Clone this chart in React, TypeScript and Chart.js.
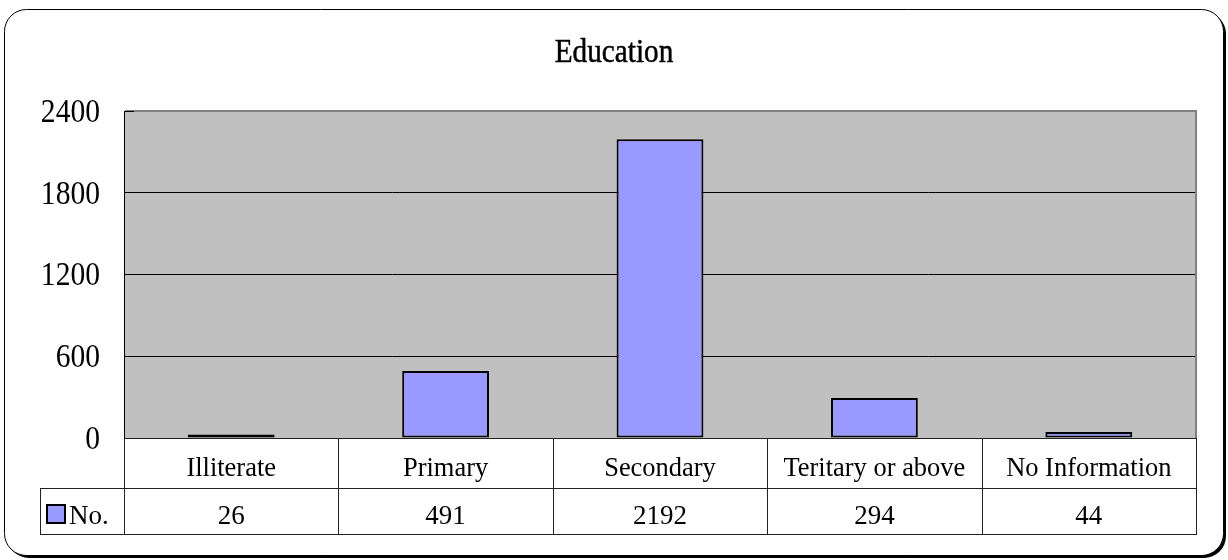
import React, { useEffect, useRef } from "react";
import { Chart, registerables } from "chart.js";

Chart.register(...registerables);

const chartTitle = "Education";
const categories = ["Illiterate", "Primary", "Secondary", "Teritary or above", "No Information"];
const values = [26, 491, 2192, 294, 44];
const seriesName = "No.";
const yTickValues = [0, 600, 1200, 1800, 2400];

const FONT = '"Liberation Serif", "Times New Roman", serif';
const BAR_COLOR = "#9999FF";

function scaledText(ctx: CanvasRenderingContext2D, text: string, x: number, y: number, font: string, sx: number, align: CanvasTextAlign, baseline: CanvasTextBaseline, strokeW = 0) {
  ctx.save();
  ctx.font = font;
  ctx.fillStyle = "#000";
  ctx.textAlign = align;
  ctx.textBaseline = baseline;
  ctx.translate(x, y);
  ctx.scale(sx, 1);
  ctx.fillText(text, 0, 0);
  if (strokeW > 0) {
    ctx.strokeStyle = "#000";
    ctx.lineWidth = strokeW;
    ctx.strokeText(text, 0, 0);
  }
  ctx.restore();
}

function roundRect(ctx: CanvasRenderingContext2D, x: number, y: number, w: number, h: number, r: number) {
  ctx.beginPath();
  ctx.moveTo(x + r, y);
  ctx.lineTo(x + w - r, y);
  ctx.arcTo(x + w, y, x + w, y + r, r);
  ctx.lineTo(x + w, y + h - r);
  ctx.arcTo(x + w, y + h, x + w - r, y + h, r);
  ctx.lineTo(x + r, y + h);
  ctx.arcTo(x, y + h, x, y + h - r, r);
  ctx.lineTo(x, y + r);
  ctx.arcTo(x, y, x + r, y, r);
  ctx.closePath();
}

const excelPlugin = {
  id: "excelLook",
  beforeDraw(chart: any) {
    const ctx: CanvasRenderingContext2D = chart.ctx;
    const { left, right, top, bottom } = chart.chartArea;
    ctx.save();
    ctx.fillStyle = "#fff";
    ctx.fillRect(0, 0, chart.width, chart.height);
    // shadow
    roundRect(ctx, 7, 12, 1219, 546, 22);
    ctx.fillStyle = "#000";
    ctx.fill();
    roundRect(ctx, 4.5, 9.5, 1219, 546, 22);
    ctx.fillStyle = "#fff";
    ctx.fill();
    ctx.strokeStyle = "#000";
    ctx.lineWidth = 1;
    ctx.stroke();
    // plot background
    ctx.fillStyle = "#C0C0C0";
    ctx.fillRect(left, top, right - left, bottom - top);
    ctx.restore();
  },
  afterDatasetsDraw(chart: any) {
    const ctx: CanvasRenderingContext2D = chart.ctx;
    const { left, right, top, bottom } = chart.chartArea;
    const xs = chart.scales.x;
    const ys = chart.scales.y;
    ctx.save();
    // right plot border (gray)
    ctx.strokeStyle = "#808080";
    ctx.lineWidth = 2;
    ctx.beginPath();
    ctx.moveTo(right, top - 1);
    ctx.lineTo(right, bottom);
    ctx.stroke();
    // small tick at top-left
    ctx.strokeStyle = "#000";
    ctx.lineWidth = 1;
    ctx.beginPath();
    ctx.moveTo(left, top + 0.5);
    ctx.lineTo(left + 10, top + 0.5);
    ctx.stroke();

    // data table
    const n = categories.length;
    const bounds: number[] = [left];
    for (let i = 1; i < n; i++) {
      bounds.push((xs.getPixelForValue(i - 1) + xs.getPixelForValue(i)) / 2);
    }
    bounds.push(right);
    const rowTop = bottom;
    const rowMid = bottom + 50;
    const rowBot = bottom + 96;
    const legendLeft = 40;
    ctx.strokeStyle = "#222";
    ctx.lineWidth = 1;
    ctx.beginPath();
    ctx.moveTo(left, rowTop + 0.5);
    ctx.lineTo(right, rowTop + 0.5);
    ctx.moveTo(legendLeft, rowMid + 0.5);
    ctx.lineTo(right, rowMid + 0.5);
    ctx.moveTo(legendLeft, rowBot + 0.5);
    ctx.lineTo(right, rowBot + 0.5);
    ctx.moveTo(legendLeft + 0.5, rowMid);
    ctx.lineTo(legendLeft + 0.5, rowBot);
    for (const b of bounds) {
      const bx = Math.round(b) + 0.5;
      ctx.moveTo(bx, rowTop);
      ctx.lineTo(bx, rowBot + 1);
    }
    ctx.stroke();

    const tableFont = `27px ${FONT}`;
    for (let i = 0; i < n; i++) {
      const cx = (bounds[i] + bounds[i + 1]) / 2;
      scaledText(ctx, categories[i], cx, rowTop + 38, tableFont, 0.98, "center", "alphabetic");
      scaledText(ctx, String(values[i]), cx, rowBot - 10, tableFont, 1, "center", "alphabetic");
    }
    // legend key
    ctx.fillStyle = BAR_COLOR;
    ctx.fillRect(47, rowMid + 17, 18, 18);
    ctx.strokeStyle = "#000";
    ctx.lineWidth = 2;
    ctx.strokeRect(47, rowMid + 17, 18, 18);
    scaledText(ctx, seriesName, 69, rowBot - 10, tableFont, 1, "left", "alphabetic");

    // y tick labels
    for (const t of ys.ticks) {
      const py = ys.getPixelForValue(t.value);
      scaledText(ctx, String(t.value), 100, py + 2, `34px ${FONT}`, 0.87, "right", "middle");
    }

    // title
    scaledText(ctx, chartTitle, chart.width / 2, 62, `34px ${FONT}`, 0.86, "center", "alphabetic", 0.5);
    ctx.restore();
  },
};

export default function App() {
  const canvasRef = useRef<HTMLCanvasElement | null>(null);

  useEffect(() => {
    if (!canvasRef.current) return;
    const chart = new Chart(canvasRef.current, {
      type: "bar",
      data: {
        labels: categories,
        datasets: [
          {
            label: seriesName,
            data: values,
            backgroundColor: BAR_COLOR,
            borderColor: "#000",
            borderWidth: 2,
            borderSkipped: false,
            barPercentage: 0.405,
            categoryPercentage: 1,
          },
        ],
      },
      options: {
        responsive: false,
        animation: false,
        devicePixelRatio: 1,
        layout: { padding: { left: 124, top: 111, right: 32, bottom: 122 } },
        plugins: {
          legend: { display: false },
          title: { display: false },
          tooltip: { enabled: false },
        },
        scales: {
          x: {
            grid: { display: false, drawTicks: false },
            border: { display: false },
            ticks: { display: false },
            afterFit: (s: any) => {
              s.height = 0;
            },
          },
          y: {
            min: 0,
            max: yTickValues[yTickValues.length - 1],
            afterBuildTicks: (s: any) => {
              s.ticks = yTickValues.map((v) => ({ value: v }));
            },
            grid: {
              drawTicks: false,
              color: (c: any) => (c.tick && c.tick.value === 2400 ? "#808080" : "#000000"),
              lineWidth: (c: any) => (c.tick && c.tick.value === 2400 ? 2 : 1),
            },
            border: { display: true, color: "#000", width: 1 },
            ticks: { display: false },
            afterFit: (s: any) => {
              s.width = 0;
            },
          },
        },
      },
      plugins: [excelPlugin],
    });
    return () => chart.destroy();
  }, []);

  return (
    <div style={{ position: "fixed", left: 0, top: 0, width: 1228, height: 560, background: "#fff" }}>
      <canvas ref={canvasRef} width={1228} height={560} style={{ display: "block", width: 1228, height: 560 }} />
    </div>
  );
}
